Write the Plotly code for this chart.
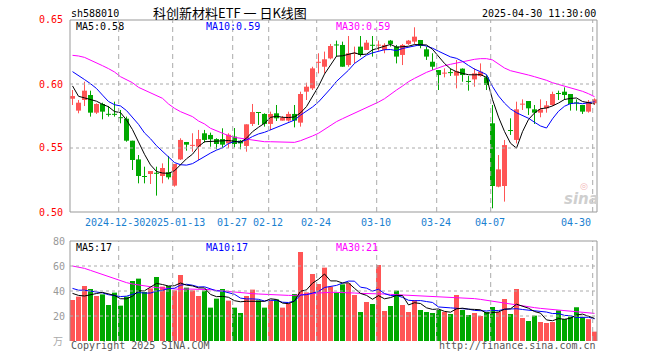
import plotly.graph_objects as go

# ---------------- data ----------------
dates = (["2024-12-%02d" % d for d in [18, 19, 20, 23, 24, 25, 26, 27, 30, 31]] +
         ["2025-01-%02d" % d for d in [2, 3, 6, 7, 8, 9, 10, 13, 14, 15, 16, 17, 20, 21, 22, 23, 24, 27]] +
         ["2025-02-%02d" % d for d in [5, 6, 7, 10, 11, 12, 13, 14, 17, 18, 19, 20, 21, 24, 25, 26, 27, 28]] +
         ["2025-03-%02d" % d for d in [3, 4, 5, 6, 7, 10, 11, 12, 13, 14, 17, 18, 19, 20, 21, 24, 25, 26, 27, 28, 31]] +
         ["2025-04-%02d" % d for d in [1, 2, 3, 7, 8, 9, 10, 11, 14, 15, 16, 17, 18, 21, 22, 23, 24, 25, 28, 29, 30]])

open_ = [0.5885, 0.5792, 0.5875, 0.5914, 0.5776, 0.5844, 0.5766, 0.5766, 0.5740, 0.5729,
         0.5557, 0.5411, 0.5279, 0.5297, 0.5305, 0.5281, 0.5310, 0.5206, 0.5411, 0.5547,
         0.5518, 0.5510, 0.5615, 0.5602, 0.5570, 0.5570, 0.5536, 0.5589, 0.5557, 0.5516,
         0.5688, 0.5779, 0.5766, 0.5688, 0.5771, 0.5714, 0.5714, 0.5766, 0.5698, 0.5940,
         0.5966, 0.6167, 0.6135, 0.6200, 0.6307, 0.6305, 0.6148, 0.6237, 0.6292, 0.6266,
         0.6305, 0.6302, 0.6266, 0.6339, 0.6292, 0.6227, 0.6313, 0.6331, 0.6344, 0.6271,
         0.6174, 0.6109, 0.6083, 0.6091, 0.6065, 0.6120, 0.6022, 0.6036, 0.6063, 0.6052,
         0.5693, 0.5198, 0.5203, 0.5638, 0.5563, 0.5841, 0.5867, 0.5802, 0.5776, 0.5810,
         0.5836, 0.5927, 0.5940, 0.5922, 0.5854, 0.5836, 0.5784, 0.5849]
high = [0.5953, 0.5875, 0.6018, 0.5948, 0.5849, 0.5854, 0.5828, 0.5862, 0.5797, 0.5745,
        0.5557, 0.5445, 0.5354, 0.5320, 0.5354, 0.5380, 0.5438, 0.5375, 0.5576, 0.5547,
        0.5615, 0.5641, 0.5641, 0.5620, 0.5576, 0.5654, 0.5615, 0.5656, 0.5563, 0.5685,
        0.5844, 0.5779, 0.5771, 0.5784, 0.5836, 0.5750, 0.5784, 0.5836, 0.5940, 0.6010,
        0.6135, 0.6240, 0.6253, 0.6313, 0.6339, 0.6331, 0.6375, 0.6292, 0.6375, 0.6344,
        0.6375, 0.6339, 0.6318, 0.6344, 0.6305, 0.6313, 0.6344, 0.6443, 0.6344, 0.6292,
        0.6240, 0.6109, 0.6122, 0.6122, 0.6188, 0.6122, 0.6063, 0.6122, 0.6161, 0.6070,
        0.5836, 0.5445, 0.5563, 0.5732, 0.5862, 0.5880, 0.5867, 0.5836, 0.5880, 0.5867,
        0.5940, 0.5948, 0.5974, 0.5922, 0.5880, 0.5836, 0.5875, 0.5888]
low = [0.5836, 0.5771, 0.5828, 0.5745, 0.5766, 0.5724, 0.5745, 0.5745, 0.5693, 0.5549,
       0.5328, 0.5224, 0.5224, 0.5219, 0.5128, 0.5224, 0.5255, 0.5198, 0.5406, 0.5479,
       0.5471, 0.5406, 0.5542, 0.5510, 0.5490, 0.5500, 0.5500, 0.5505, 0.5490, 0.5471,
       0.5672, 0.5680, 0.5667, 0.5641, 0.5711, 0.5714, 0.5706, 0.5661, 0.5667, 0.5875,
       0.5953, 0.6083, 0.6083, 0.6193, 0.6214, 0.6135, 0.6135, 0.6161, 0.6214, 0.6266,
       0.6214, 0.6260, 0.6240, 0.6292, 0.6161, 0.6148, 0.6305, 0.6313, 0.6279, 0.6188,
       0.6109, 0.5953, 0.6052, 0.6063, 0.5966, 0.6018, 0.5948, 0.5979, 0.6057, 0.5953,
       0.5029, 0.5193, 0.5081, 0.5602, 0.5536, 0.5797, 0.5758, 0.5688, 0.5740, 0.5776,
       0.5828, 0.5875, 0.5875, 0.5792, 0.5792, 0.5766, 0.5776, 0.5836]
close = [0.5906, 0.5854, 0.5948, 0.5776, 0.5844, 0.5784, 0.5760, 0.5760, 0.5734, 0.5557,
         0.5406, 0.5281, 0.5276, 0.5320, 0.5300, 0.5344, 0.5271, 0.5375, 0.5563, 0.5526,
         0.5523, 0.5570, 0.5563, 0.5568, 0.5531, 0.5526, 0.5604, 0.5531, 0.5536, 0.5685,
         0.5781, 0.5776, 0.5688, 0.5766, 0.5732, 0.5737, 0.5766, 0.5714, 0.5922, 0.5979,
         0.6122, 0.6172, 0.6193, 0.6297, 0.6303, 0.6135, 0.6240, 0.6242, 0.6227, 0.6323,
         0.6300, 0.6305, 0.6305, 0.6313, 0.6214, 0.6305, 0.6339, 0.6370, 0.6297, 0.6214,
         0.6135, 0.6070, 0.6087, 0.6087, 0.6100, 0.6070, 0.6018, 0.6083, 0.6096, 0.5992,
         0.5203, 0.5333, 0.5523, 0.5635, 0.5802, 0.5844, 0.5810, 0.5776, 0.5802, 0.5833,
         0.5922, 0.5924, 0.5914, 0.5844, 0.5850, 0.5784, 0.5862, 0.5880]
# closes of the 9 sessions before the window (estimated from the MA lines' start)
prior_close = [0.620, 0.622, 0.610, 0.622, 0.630, 0.626, 0.601, 0.583, 0.592]

# MA30 of price
ma30 = [0.6224, 0.6219, 0.6208, 0.6188, 0.6167, 0.6143, 0.6120, 0.6094, 0.6057, 0.6036,
        0.6010, 0.5974, 0.5953, 0.5932, 0.5909, 0.5888, 0.5844, 0.5810, 0.5784, 0.5766,
        0.5745, 0.5711, 0.5688, 0.5654, 0.5633, 0.5615, 0.5596, 0.5583, 0.5576, 0.5568,
        0.5560, 0.5552, 0.5549, 0.5549, 0.5549, 0.5549, 0.5544, 0.5544, 0.5557, 0.5573,
        0.5594, 0.5615, 0.5646, 0.5680, 0.5706, 0.5729, 0.5750, 0.5771, 0.5797, 0.5818,
        0.5836, 0.5859, 0.5885, 0.5922, 0.5953, 0.5984, 0.6018, 0.6044, 0.6070, 0.6091,
        0.6109, 0.6128, 0.6143, 0.6154, 0.6164, 0.6174, 0.6185, 0.6193, 0.6198, 0.6198,
        0.6188, 0.6154, 0.6125, 0.6104, 0.6094, 0.6083, 0.6070, 0.6057, 0.6044, 0.6029,
        0.6010, 0.5997, 0.5984, 0.5969, 0.5956, 0.5943, 0.5924, 0.5901]

volume = [32.8, 35.5, 44.0, 41.6, 36.0, 37.3, 28.8, 38.7, 28.3, 35.5,
          48.0, 49.9, 39.2, 42.1, 51.2, 43.5, 44.0, 40.5, 52.8, 42.7,
          40.5, 36.0, 40.3, 26.7, 33.9, 41.6, 32.3, 26.7, 22.4, 36.0,
          41.1, 32.5, 26.7, 32.5, 33.3, 26.7, 30.1, 37.6, 71.2, 38.9,
          53.6, 45.6, 58.7, 43.5, 38.9, 45.3, 46.1, 36.8, 23.2, 31.2,
          29.6, 60.8, 24.0, 28.0, 40.3, 28.8, 23.2, 32.8, 24.8, 23.2,
          22.4, 24.8, 23.2, 21.6, 36.8, 24.8, 20.8, 22.4, 20.0, 23.2,
          27.2, 23.2, 33.6, 21.6, 41.6, 18.4, 16.0, 20.3, 15.2, 14.4,
          15.2, 24.5, 17.6, 19.5, 27.0, 19.0, 17.5, 7.5]
prior_volume = [50.0, 44.0, 48.0, 42.0, 46.5, 43.5, 46.5, 35.1, 32.6]

# MA30 of volume
vma30 = [60.0, 59.2, 58.1, 56.5, 54.9, 53.3, 51.5, 49.9, 48.0, 46.7,
         45.6, 44.8, 43.7, 43.2, 42.7, 42.4, 41.9, 41.6, 41.3, 41.6,
         41.6, 41.6, 41.3, 41.1, 40.5, 40.0, 39.5, 38.9, 38.7, 38.1,
         37.9, 37.6, 37.3, 37.1, 36.8, 36.8, 36.5, 36.5, 36.8, 37.3,
         37.9, 38.4, 38.9, 38.9, 38.9, 38.9, 38.7, 38.4, 38.1, 38.1,
         37.9, 37.6, 37.6, 37.3, 37.1, 36.8, 36.5, 36.3, 36.0, 35.7,
         35.5, 35.5, 35.5, 35.2, 34.9, 34.7, 34.4, 33.9, 33.3, 32.5,
         31.7, 30.9, 30.1, 29.3, 28.5, 28.0, 27.5, 26.7, 26.1, 25.6,
         25.1, 24.8, 24.3, 23.7, 23.5, 22.9, 22.7, 22.1]

tick_dates = ["2024-12-30", "2025-01-13", "2025-01-27", "2025-02-12", "2025-02-24",
              "2025-03-10", "2025-03-24", "2025-04-07", "2025-04-30"]
tick_labels = ["2024-12-30", "2025-01-13", "01-27", "02-12", "02-24",
               "03-10", "03-24", "04-07", "04-30"]
price_ticks = [0.65, 0.60, 0.55, 0.50]
price_tick_text = ["0.65", "0.60", "0.55", "0.50"]
vol_ticks = [80, 60, 40, 20]
vol_tick_text = ["80", "60", "40", "20"]

title = "科创新材料ETF 一 日K线图"
code = "sh588010"
stamp = "2025-04-30 11:30:00"
ma_labels = ["MA5:0.58", "MA10:0.59", "MA30:0.59"]
vma_labels = ["MA5:17", "MA10:17", "MA30:21"]

# ---------------- derived ----------------
n = len(close)
idx = list(range(n))


def rolling(series, prior, w):
    full = prior + series
    off = len(prior)
    out = []
    for i in range(n):
        j = off + i
        win = full[max(0, j - w + 1): j + 1]
        out.append(sum(win) / len(win))
    return out


ma5 = rolling(close, prior_close, 5)
ma10 = rolling(close, prior_close, 10)
vma5 = rolling(volume, prior_volume, 5)
vma10 = rolling(volume, prior_volume, 10)

RED = "#ff5555"
GREEN = "#00a800"
up = [c >= o for o, c in zip(open_, close)]
MINH = 0.0008

fig = go.Figure()

# wicks
for flag, col in [(True, RED), (False, GREEN)]:
    wx, wy = [], []
    for i in idx:
        if up[i] == flag:
            wx += [i, i, None]
            wy += [low[i], high[i], None]
    fig.add_trace(go.Scatter(x=wx, y=wy, mode="lines", line=dict(color=col, width=1),
                             xaxis="x", yaxis="y", hoverinfo="skip"))

# bodies
for flag, col in [(True, RED), (False, GREEN)]:
    bx, bb, bh = [], [], []
    for i in idx:
        if up[i] == flag:
            lo_, hi_ = min(open_[i], close[i]), max(open_[i], close[i])
            h = hi_ - lo_
            if h < MINH:
                mid = (lo_ + hi_) / 2
                lo_, h = mid - MINH / 2, MINH
            bx.append(i); bb.append(lo_); bh.append(h)
    fig.add_trace(go.Bar(x=bx, y=bh, base=bb, width=0.8333, marker=dict(color=col, line=dict(width=0)),
                         xaxis="x", yaxis="y", hoverinfo="skip"))

for ys, col in [(ma30, "#ff00ff"), (ma10, "#0000ff"), (ma5, "#000000")]:
    fig.add_trace(go.Scatter(x=idx, y=ys, mode="lines", line=dict(color=col, width=1),
                             xaxis="x", yaxis="y", hoverinfo="skip"))

# volume
fig.add_trace(go.Bar(x=idx, y=volume, width=0.8333,
                     marker=dict(color=[RED if u else GREEN for u in up], line=dict(width=0)),
                     xaxis="x2", yaxis="y2", hoverinfo="skip"))
for ys, col in [(vma30, "#ff00ff"), (vma10, "#0000ff"), (vma5, "#000000")]:
    fig.add_trace(go.Scatter(x=idx, y=ys, mode="lines", line=dict(color=col, width=1),
                             xaxis="x2", yaxis="y2", hoverinfo="skip"))

# ---------------- layout ----------------
L, R, T, B, W, H = 70, 63, 20, 19, 660, 360
PW, PH = W - L - R, H - T - B
x0 = -0.4167
x1 = x0 + PW / 6.0
price_dom = [1 - 192 / PH, 1]
vol_dom = [0, 100 / PH]


def px(xp):
    return (xp - L) / PW


def py(yp):
    return (H - B - yp) / PH


shapes = []
GRID = "#aaaaaa"
BORDER = "#999999"
shapes.append(dict(type="rect", xref="x domain", yref="y domain", x0=0, x1=1, y0=0, y1=1,
                   line=dict(color=BORDER, width=1)))
for (a0, b0, a1, b1) in [(0, 1, 1, 1), (0, 0, 0, 1), (1, 0, 1, 1)]:
    shapes.append(dict(type="line", xref="x2 domain", yref="y2 domain", x0=a0, y0=b0, x1=a1, y1=b1,
                       line=dict(color=BORDER, width=1)))
for v in [0.60, 0.55]:
    shapes.append(dict(type="line", xref="x domain", yref="y", x0=0, x1=1, y0=v, y1=v,
                       line=dict(color=GRID, width=1, dash="dot")))
for v in [60, 40, 20]:
    shapes.append(dict(type="line", xref="x2 domain", yref="y2", x0=0, x1=1, y0=v, y1=v,
                       line=dict(color=GRID, width=1, dash="dot")))
tick_idx = [dates.index(d) for d in tick_dates]
for ti in tick_idx:
    for xr, yr in [("x", "y domain"), ("x2", "y2 domain")]:
        shapes.append(dict(type="line", xref=xr, yref=yr, x0=ti - 0.3, x1=ti - 0.3, y0=0, y1=1,
                           line=dict(color=GRID, width=1, dash="5px,4px")))

MONO = "DejaVu Sans Mono"
ann = []


def text(t, x, y, anchor="left", color="#000000", size=10, family=MONO, **kw):
    ann.append(dict(text=t, x=px(x), y=py(y), xref="paper", yref="paper", xanchor=anchor,
                    yanchor="middle", showarrow=False,
                    font=dict(family=family, size=size, color=color), **kw))


text(code, 69, 13)
text(title, 230, 12, anchor="center", size=13, family="Noto Sans CJK SC")
text(stamp, 598, 13, anchor="right")
for t, x, col in zip(ma_labels, [74, 204, 334], ["#000000", "#0000ff", "#ff00ff"]):
    text(t, x, 26, color=col)
for t, x, col in zip(vma_labels, [74, 204, 334], ["#000000", "#0000ff", "#ff00ff"]):
    text(t, x, 247, color=col)

for v, t in zip(price_ticks, price_tick_text):
    yp = 212 - (v - 0.50) / 0.15 * 192
    text(t, 65, yp, anchor="right", color="#ff0000")
for v, t in zip(vol_ticks, vol_tick_text):
    yp = 341 - v / 80 * 100
    text(t, 67, yp, anchor="right", color="#999999")
text("万", 65, 340, anchor="right", color="#aaaaaa", size=10, family="Noto Sans CJK SC")

# the first two date labels collide in the original; nudge them apart slightly
nudge = {0: -3, 1: 3}
for k, (ti, t) in enumerate(zip(tick_idx, tick_labels)):
    cx = L + (ti - x0) * 6 - 0.5 - 1.8 + nudge.get(k, 0)
    if k == len(tick_idx) - 1:
        text(t, 593, 222, anchor="right", color="#1a80d0")
    else:
        text(t, cx, 222, anchor="center", color="#1a80d0")

text("Copyright 2025 SINA.COM", 69, 346, color="#555555")
text("http://finance.sina.com.cn", 598, 346, anchor="right", color="#555555")
text("<b><i>sina</i></b>", 581, 199, anchor="center", color="#cfcfcf", size=15, family="DejaVu Sans")
text("◎", 584, 186, anchor="center", color="#f2b8b8", size=9, family="DejaVu Sans")

fig.update_layout(
    width=W, height=H, margin=dict(l=L, r=R, t=T, b=B),
    paper_bgcolor="white", plot_bgcolor="white",
    showlegend=False, hovermode=False, barmode="overlay",
    xaxis=dict(domain=[0, 1], range=[x0, x1], anchor="y", showticklabels=False, showgrid=False,
               zeroline=False, showline=False, ticks=""),
    xaxis2=dict(domain=[0, 1], range=[x0, x1], anchor="y2", showticklabels=False, showgrid=False,
                zeroline=False, showline=False, ticks="", matches="x"),
    yaxis=dict(domain=price_dom, range=[0.50, 0.65], showticklabels=False, showgrid=False,
               zeroline=False, ticks=""),
    yaxis2=dict(domain=vol_dom, range=[0, 80], showticklabels=False, showgrid=False,
                zeroline=False, ticks=""),
    shapes=shapes, annotations=ann,
)

fig.write_html("out.html", config={"displayModeBar": False, "staticPlot": True},
               post_script="document.body.style.margin='0';document.body.style.overflow='hidden';")
